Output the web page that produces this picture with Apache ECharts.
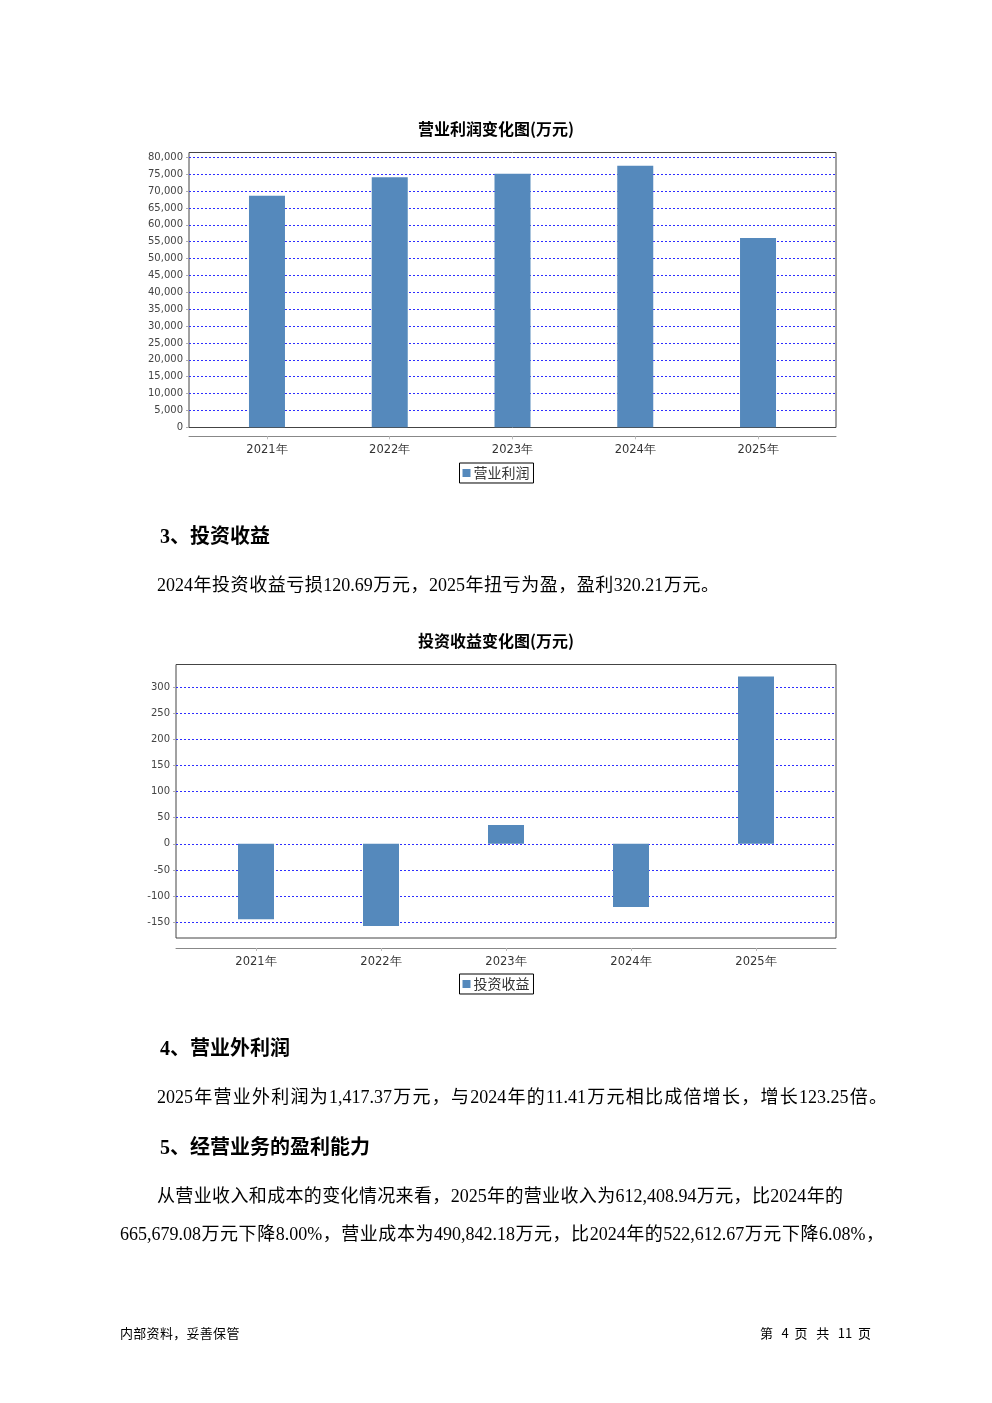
<!DOCTYPE html>
<html>
<head>
<meta charset="utf-8">
<script src="https://cdn.jsdelivr.net/npm/echarts@6/dist/echarts.min.js"></script>
<style>
  html, body { margin: 0; padding: 0; background: #fff; }
  #page { position: relative; width: 992px; height: 1403px; overflow: hidden; background: #fff; }
  #chart { position: absolute; left: 0; top: 0; width: 992px; height: 1403px; }
  .t { position: absolute; white-space: nowrap; color: #000;
       font-family: "Liberation Serif", "Noto Sans CJK SC", serif; }
  .h { font-size: 20px; font-weight: bold; line-height: 24px; }
  .b { font-size: 18px; line-height: 24px; white-space: normal; text-align: justify; text-align-last: justify; }
  .f { font-size: 13px; line-height: 16px; font-family: "Noto Sans CJK SC", sans-serif; }
  .fj { white-space: normal; text-align: justify; text-align-last: justify; }
</style>
</head>
<body>
<div id="page">
  <div id="chart"></div>
  <div class="t h" style="left:160px;top:524px;">3、投资收益</div>
  <div class="t b" style="left:157px;top:573px;width:562px;">2024年投资收益亏损120.69万元，2025年扭亏为盈，盈利320.21万元。</div>
  <div class="t h" style="left:160px;top:1036px;">4、营业外利润</div>
  <div class="t b" style="left:157px;top:1085px;width:730px;">2025年营业外利润为1,417.37万元，与2024年的11.41万元相比成倍增长，增长123.25倍。</div>
  <div class="t h" style="left:160px;top:1135px;">5、经营业务的盈利能力</div>
  <div class="t b" style="left:157px;top:1184px;width:686px;">从营业收入和成本的变化情况来看，2025年的营业收入为612,408.94万元，比2024年的</div>
  <div class="t b" style="left:120px;top:1222px;width:764px;">665,679.08万元下降8.00%，营业成本为490,842.18万元，比2024年的522,612.67万元下降6.08%，</div>
  <div class="t f" style="left:120px;top:1325px;letter-spacing:0.3px;">内部资料，妥善保管</div>
  <div class="t f fj" style="left:760px;top:1325px;width:111px;">第 4 页 共 11 页</div>
</div>
<script>
// ---- data ----
const categories = ['2021年', '2022年', '2023年', '2024年', '2025年'];
const opProfitName = '营业利润';
const opProfit = [68600, 74100, 75150, 77500, 56100];
const invIncomeName = '投资收益';
const invIncome = [-144, -157, 36, -120.69, 320.21];
const title1 = '营业利润变化图(万元)';
const title2 = '投资收益变化图(万元)';

// ---- styles ----
const barColor = '#5589bc';
const gridLine = { show: true, lineStyle: { color: '#2e2eff', width: 1, type: [2, 2] } };
const axisFont = { fontFamily: 'DejaVu Sans', fontSize: 10, color: '#444' };
const catFont = { fontFamily: 'DejaVu Sans', fontSize: 11.5, color: '#333' };
const hidden = { show: false };
const noBounds = { containLabel: false, outerBoundsMode: 'none' };

const chart = echarts.init(document.getElementById('chart'), null, { renderer: 'canvas' });

const legendStyle = {
  left: 'center', icon: 'rect', itemWidth: 8, itemHeight: 8, itemGap: 4,
  padding: [3, 4, 3, 3], borderColor: '#000', borderWidth: 1,
  textStyle: { fontFamily: 'Noto Sans CJK SC', fontSize: 14, color: '#333', padding: [0, 0, 0, -2] }
};

const option = {
  animation: false,
  backgroundColor: '#fff',
  title: [
    { text: title1, left: 'center', top: 116,
      textStyle: { fontFamily: 'Noto Sans CJK SC', fontSize: 16, fontWeight: 'bold', color: '#000' } },
    { text: title2, left: 'center', top: 628,
      textStyle: { fontFamily: 'Noto Sans CJK SC', fontSize: 16, fontWeight: 'bold', color: '#000' } }
  ],
  legend: [
    Object.assign({ data: [opProfitName], top: 463 }, legendStyle),
    Object.assign({ data: [invIncomeName], top: 974 }, legendStyle)
  ],
  grid: [
    // chart 1
    Object.assign({ left: 189, top: 152.5, width: 647, height: 275, show: true, borderColor: '#444', borderWidth: 1, backgroundColor: 'transparent' }, noBounds),
    Object.assign({ left: 189, top: 157.3, width: 647, height: 270 }, noBounds),
    Object.assign({ left: 205.6, top: 157.3, width: 613.8, height: 270 }, noBounds),
    // chart 2
    Object.assign({ left: 176, top: 664.5, width: 660, height: 273.5, show: true, borderColor: '#444', borderWidth: 1, backgroundColor: 'transparent' }, noBounds),
    Object.assign({ left: 176, top: 687, width: 660, height: 235.3 }, noBounds),
    Object.assign({ left: 193.5, top: 687, width: 625, height: 235.3 }, noBounds)
  ],
  xAxis: [
    { gridIndex: 0, type: 'category', data: categories, offset: 9,
      axisLine: { show: true, onZero: false, lineStyle: { color: '#888' } }, axisTick: hidden, axisLabel: hidden, splitLine: hidden },
    { gridIndex: 1, type: 'category', data: categories, show: false },
    { gridIndex: 2, type: 'category', data: categories, offset: 9,
      axisLine: { show: false, onZero: false }, axisTick: { show: true, alignWithLabel: true, length: 3, lineStyle: { color: '#bbb' } },
      axisLabel: Object.assign({ margin: 8 }, catFont), splitLine: hidden },
    { gridIndex: 3, type: 'category', data: categories, offset: 10,
      axisLine: { show: true, onZero: false, lineStyle: { color: '#888' } }, axisTick: hidden, axisLabel: hidden, splitLine: hidden },
    { gridIndex: 4, type: 'category', data: categories, show: false },
    { gridIndex: 5, type: 'category', data: categories, offset: 25.7,
      axisLine: { show: false, onZero: false }, axisTick: { show: true, alignWithLabel: true, length: 3, lineStyle: { color: '#bbb' } },
      axisLabel: Object.assign({ margin: 8 }, catFont), splitLine: hidden }
  ],
  yAxis: [
    { gridIndex: 0, type: 'value', min: 0, max: 1, show: false },
    { gridIndex: 1, type: 'value', min: 0, max: 80000, interval: 5000,
      axisLine: { show: false }, axisTick: { show: true, length: 3, lineStyle: { color: '#aaa' } },
      axisLabel: Object.assign({ margin: 6, formatter: v => v.toLocaleString('en-US') }, axisFont),
      splitLine: Object.assign({ showMinLine: false }, gridLine) },
    { gridIndex: 2, type: 'value', min: 0, max: 80000, show: false },
    { gridIndex: 3, type: 'value', min: 0, max: 1, show: false },
    { gridIndex: 4, type: 'value', min: -150, max: 300, interval: 50,
      axisLine: { show: false }, axisTick: { show: true, length: 3, lineStyle: { color: '#aaa' } },
      axisLabel: Object.assign({ margin: 6 }, axisFont),
      splitLine: gridLine },
    { gridIndex: 5, type: 'value', min: -150, max: 300, show: false }
  ],
  series: [
    { name: opProfitName, type: 'bar', xAxisIndex: 2, yAxisIndex: 2, data: opProfit,
      barWidth: 36, clip: false, itemStyle: { color: barColor }, z: 3 },
    { name: invIncomeName, type: 'bar', xAxisIndex: 5, yAxisIndex: 5, data: invIncome,
      barWidth: 36, clip: false, itemStyle: { color: barColor }, z: 3 }
  ]
};
chart.setOption(option);
</script>
</body>
</html>
